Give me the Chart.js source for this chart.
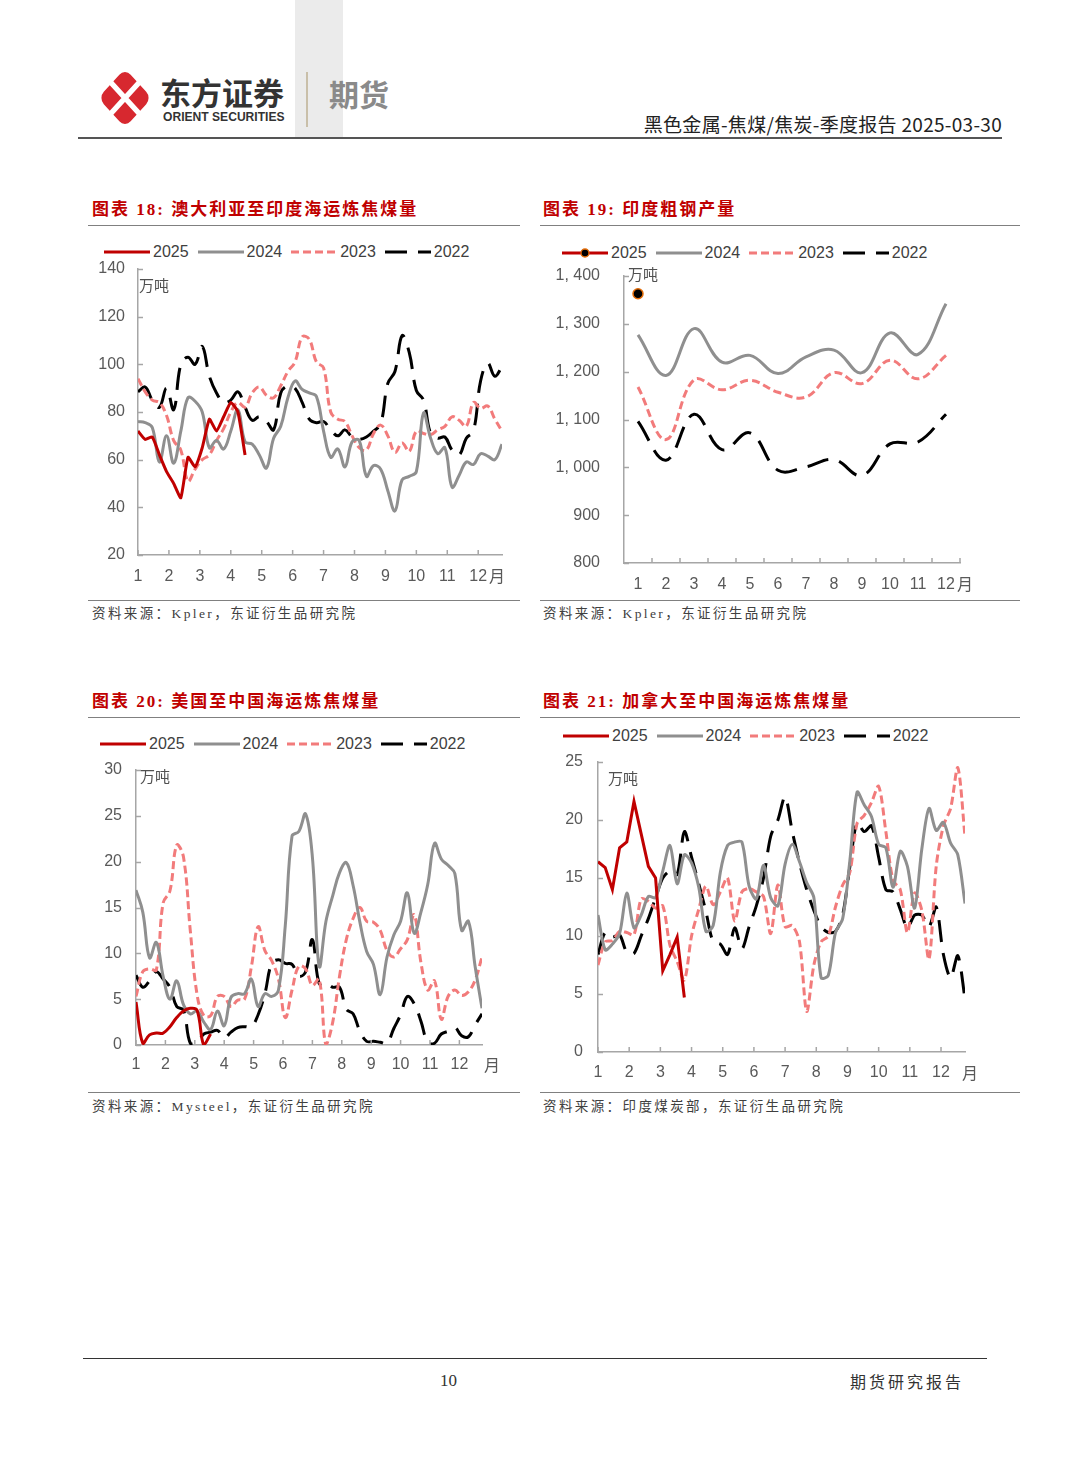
<!DOCTYPE html>
<html>
<head>
<meta charset="utf-8">
<script src="https://cdn.jsdelivr.net/npm/chart.js@4.4.1/dist/chart.umd.min.js"></script>
<style>
body { margin: 0; background: #fff; }
#page { position: relative; width: 1080px; height: 1465px; overflow: hidden; font-family: "Liberation Sans", "Noto Sans CJK SC", sans-serif; }
.abs { position: absolute; white-space: nowrap; }
.title { font-family: "Liberation Serif", "Noto Sans CJK SC", serif; font-weight: bold; color: #C00000; font-size: 17px; line-height: 20px; letter-spacing: 2px; }
.src { font-family: "Liberation Serif", "Noto Sans CJK SC", serif; font-size: 13.5px; line-height: 18px; color: #404040; letter-spacing: 2.4px; }
.rule { position: absolute; height: 0; border-top: 1.5px solid #808080; }
.legend { position: absolute; display: flex; align-items: center; height: 18px; font-size: 16px; line-height: 18px; color: #404040; }
.legend svg { display: block; }
.legend span { margin: 0 9px 0 3px; }
.unit { position: absolute; font-family: "Noto Sans CJK SC"; font-size: 15px; line-height: 15px; color: #505050; }
.yue { position: absolute; font-family: "Noto Sans CJK SC"; font-size: 16px; line-height: 16px; color: #595959; }
.box { position: absolute; }
</style>
</head>
<body>
<div id="page">

  <!-- 页眉 -->
  <div class="abs" style="left:295px;top:0;width:48px;height:138px;background:#EBEBEB;"></div>
  <svg class="abs" style="left:98px;top:68px" width="54" height="60">
    <g transform="translate(27,30) scale(1,1.1) rotate(45)">
      <rect x="-19" y="-19" width="38" height="38" rx="8" fill="#D7282F"/>
      <path d="M-20 0 H20 M0 -20 V20" stroke="#fff" stroke-width="5"/>
    </g>
  </svg>
  <div class="abs" style="left:160px;top:74px;font-family:'Noto Sans CJK SC';font-weight:bold;font-size:31px;line-height:36px;color:#333;">东方证券</div>
  <div class="abs" style="left:163px;top:110px;font-weight:bold;font-size:13px;line-height:14px;color:#333;transform:scaleX(0.93);transform-origin:left;">ORIENT SECURITIES</div>
  <div class="abs" style="left:306px;top:72px;width:1.5px;height:55px;background:#C9BFA9;"></div>
  <div class="abs" style="left:329px;top:75px;font-family:'Noto Sans CJK SC';font-weight:bold;font-size:30px;line-height:36px;color:#8A8A8A;">期货</div>
  <div class="abs" style="right:78px;top:112px;font-family:'Noto Sans CJK SC';font-size:19px;line-height:24px;letter-spacing:0.3px;color:#222;">黑色金属-焦煤/焦炭-季度报告 2025-03-30</div>
  <div class="rule" style="left:78px;top:137px;width:924px;border-top:2px solid #555;"></div>

  <!-- 图表 18 -->
  <div class="abs title" style="left:92px;top:200px;">图表 18: 澳大利亚至印度海运炼焦煤量</div>
  <div class="rule" style="left:88px;top:225px;width:432px;"></div>
  <div class="legend" id="lg1" style="left:104px;top:243px;"></div>
  <div class="box" style="left:88px;top:258px;width:430px;height:339px;"><canvas id="c1" width="430" height="339"></canvas></div>
  <div class="unit" style="left:139px;top:277px;">万吨</div>
  <div class="yue" style="left:489px;top:567px;">月</div>
  <div class="rule" style="left:88px;top:600px;width:432px;"></div>
  <div class="abs src" style="left:92px;top:605px;">资料来源：Kpler，东证衍生品研究院</div>

  <!-- 图表 19 -->
  <div class="abs title" style="left:543px;top:200px;">图表 19: 印度粗钢产量</div>
  <div class="rule" style="left:540px;top:225px;width:480px;"></div>
  <div class="legend" id="lg2" style="left:562px;top:244px;"></div>
  <div class="box" style="left:540px;top:262px;width:440px;height:335px;"><canvas id="c2" width="440" height="335"></canvas></div>
  <div class="unit" style="left:628px;top:266px;">万吨</div>
  <div class="yue" style="left:957px;top:575px;">月</div>
  <div class="rule" style="left:540px;top:600px;width:480px;"></div>
  <div class="abs src" style="left:543px;top:605px;">资料来源：Kpler，东证衍生品研究院</div>

  <!-- 图表 20 -->
  <div class="abs title" style="left:92px;top:692px;">图表 20: 美国至中国海运炼焦煤量</div>
  <div class="rule" style="left:88px;top:717px;width:432px;"></div>
  <div class="legend" id="lg3" style="left:100px;top:735px;"></div>
  <div class="box" style="left:88px;top:758px;width:430px;height:327px;"><canvas id="c3" width="430" height="327"></canvas></div>
  <div class="unit" style="left:140px;top:768px;">万吨</div>
  <div class="yue" style="left:484px;top:1056px;">月</div>
  <div class="rule" style="left:88px;top:1092px;width:432px;"></div>
  <div class="abs src" style="left:92px;top:1098px;">资料来源：Mysteel，东证衍生品研究院</div>

  <!-- 图表 21 -->
  <div class="abs title" style="left:543px;top:692px;">图表 21: 加拿大至中国海运炼焦煤量</div>
  <div class="rule" style="left:540px;top:717px;width:480px;"></div>
  <div class="legend" id="lg4" style="left:563px;top:727px;"></div>
  <div class="box" style="left:540px;top:750px;width:440px;height:342px;"><canvas id="c4" width="440" height="342"></canvas></div>
  <div class="unit" style="left:608px;top:770px;">万吨</div>
  <div class="yue" style="left:962px;top:1064px;">月</div>
  <div class="rule" style="left:540px;top:1092px;width:480px;"></div>
  <div class="abs src" style="left:543px;top:1098px;">资料来源：印度煤炭部，东证衍生品研究院</div>

  <!-- 页脚 -->
  <div class="rule" style="left:83px;top:1358px;width:904px;border-top:1.5px solid #333;"></div>
  <div class="abs" style="left:440px;top:1371px;font-family:'Liberation Serif';font-size:17px;line-height:20px;color:#333;">10</div>
  <div class="abs" style="left:850px;top:1371px;font-family:'Noto Sans CJK SC';font-size:16px;line-height:20px;letter-spacing:3px;color:#333;">期货研究报告</div>
</div>

<script>
// 系列名
var seriesNames = ['2025', '2024', '2023', '2022'];

// 周度横轴：第几周 -> 月份坐标
var weeks = Array.from({length: 52}, function (_, i) { return i + 1; });
var weekX = weeks.map(function (w) { return 1 + (w - 1) * 12 / 52; });
var months = ['1', '2', '3', '4', '5', '6', '7', '8', '9', '10', '11', '12'];

// 图表18 澳大利亚至印度海运炼焦煤量（万吨）
var au2025 = [72, 68.5, 69.5, 62, 55, 50, 44, 61, 57, 65, 77, 72, 78, 84, 80, 62];
var au2024 = [76, 75.5, 73.5, 59, 70, 58.5, 72, 86, 84.5, 80, 65, 68, 64.5, 72, 81, 67.5, 66.5, 62, 56.5, 69,
  74, 86, 93, 89.5, 88, 86.5, 72, 61, 64.5, 57, 67.5, 68, 53, 57.5, 56, 47, 38.5, 51.5, 53, 55,
  79.5, 69, 62.5, 65, 48.5, 53.5, 59, 58, 62.5, 61.5, 60, 66.5];
var au2023 = [94, 88.5, 85, 84, 78.5, 68, 64, 51, 56, 60, 62, 68, 73, 80, 84, 82, 88, 90.5, 87, 86,
  91, 97, 101, 111.5, 110.5, 101, 98.5, 80, 77, 76, 70, 65, 64, 71, 74.5, 70, 63, 67, 63.5, 72,
  71, 70.5, 72.5, 74, 78, 76.5, 74, 84, 81.5, 82.5, 77, 72];
var au2022 = [88.5, 90.5, 85, 82, 90, 81, 100, 103, 100, 107.5, 95, 88, 84, 85, 88.5, 82, 76.5, 78, 76, 72.5,
  88, 91, 90, 84, 77, 75.5, 76, 72.5, 70, 72.5, 69.5, 68.5, 69.5, 72, 75, 92, 97, 112, 105, 89,
  85, 71, 69, 69.5, 64, 62, 69, 72, 93, 100.5, 95, 99];
var auTicks = [20, 140, 20];

// 图表19 印度粗钢产量（万吨，月度）
var steel2025 = [1363];
var steel2024 = [1277, 1192, 1290, 1220, 1234, 1196, 1231, 1245, 1198, 1281, 1236, 1342];
var steel2023 = [1168, 1058, 1183, 1162, 1182, 1157, 1147, 1198, 1175, 1224, 1185, 1234];
var steel2022 = [1096, 1015, 1111, 1037, 1072, 994, 1001, 1016, 983, 1049, 1053, 1111];
var steelTicks = [800, 1400, 100];

// 图表20 美国至中国海运炼焦煤量（万吨）
var us2025 = [4.7, 0.2, 1.1, 1.3, 1.3, 2.0, 3.0, 3.7, 4.0, 3.8, 0, 1.2];
var us2024 = [16.9, 14.5, 9.5, 11.2, 7.5, 5.0, 7.0, 4.4, 3.4, 3.7, 2.5, 1.7, 3.7, 2.1, 5.2, 5.6, 5.6, 7.2, 4.2, 5.6,
  5.3, 6.0, 13, 22.8, 23.3, 25.2, 20.5, 8.6, 13.5, 16.3, 18.8, 19.9, 17.4, 13.4, 10.2, 8.8, 5.5, 9.6, 12, 13.5,
  16.6, 12.2, 14.5, 17.5, 22, 20.3, 19.6, 18.7, 12.5, 13.5, 8.5, 4.0];
var us2023 = [5.3, 8.0, 8.3, 8.2, 15.5, 16.8, 21.8, 20.5, 12.5, 5.5, 3.2, 3.2, 5.3, 5.3, 4.2, 4.9, 5.0, 8.5, 12.9, 10.3,
  9.2, 7.2, 3.0, 6.0, 8.6, 8.3, 6.5, 7.2, 0, 2.5, 7.5, 11.5, 13.8, 15.0, 13.5, 13.4, 12.5, 10.3, 9.6, 10.5,
  11.5, 14.2, 9.0, 6.0, 7.0, 2.8, 5.3, 6.0, 5.4, 5.8, 7.1, 9.6];
var us2022 = [7.6, 6.3, 7.0, 8.0, 7.2, 6.3, 4.2, 3.8, 0.2, 0.3, 1.2, 1.4, 1.6, 0.8, 1.4, 1.9, 2.0, 2.0, 3.3, 5.6,
  8.9, 9.3, 8.9, 8.8, 7.5, 8.0, 11.5, 6.7, 6.8, 6.3, 6.3, 3.9, 3.4, 1.5, 0.4, 0.4, 0.3, 0.2, 1.8, 3.3,
  5.3, 4.5, 2.6, 0.3, 0.2, 1.2, 1.5, 1.9, 1.0, 0.9, 2.2, 3.4];
var usTicks = [0, 30, 5];

// 图表21 加拿大至中国海运炼焦煤量（万吨）
var ca2025 = [16.4, 15.9, 14.0, 17.6, 18.1, 21.6, 18.8, 16.0, 15.0, 7.0, 8.4, 9.9, 4.7];
var ca2024 = [11.8, 8.8, 9.3, 10.2, 13.7, 10.7, 11.8, 13.4, 13.3, 15.6, 17.8, 14.5, 17.0, 16.3, 14.2, 10.4, 10.9, 15.5, 17.8, 18.1,
  18.1, 14.3, 13.2, 16.1, 13.3, 12.6, 16.2, 17.9, 16.4, 14.6, 13.3, 6.4, 6.6, 10.3, 11.5, 16.5, 22.4, 21.3, 20.3, 17.9,
  17.6, 14.2, 17.3, 16.0, 12.4, 17.5, 21.0, 19.1, 19.8, 18.0, 17.0, 12.8];
var ca2023 = [7.5, 9.5, 9.6, 10.4, 10.3, 10.1, 13.2, 13.0, 12.4, 12.6, 9.2, 7.8, 6.2, 10.0, 12.3, 14.3, 12.7, 13.8, 15.0, 11.3,
  13.8, 14.1, 13.8, 13.4, 10.2, 14.4, 10.8, 10.9, 9.5, 3.5, 7.5, 9.5, 10.0, 12.5, 14.4, 15.5, 19.7, 20.4, 21.5, 22.9,
  19.0, 14.8, 14.0, 10.3, 13.7, 12.2, 8.0, 16.0, 19.5, 21.0, 24.5, 18.6];
var ca2022 = [8.4, 10.3, 9.9, 10.1, 8.6, 8.5, 10.0, 11.5, 13.3, 15.0, 15.6, 15.3, 19.0, 16.8, 14.5, 12.1, 9.5, 9.3, 8.4, 10.7,
  8.9, 10.8, 12.6, 15.0, 18.6, 20.0, 22.0, 19.0, 16.3, 14.0, 12.2, 10.8, 10.3, 10.4, 11.8, 16.0, 19.8, 19.0, 19.5, 16.8,
  14.0, 13.8, 12.3, 10.7, 11.8, 11.8, 10.8, 12.5, 8.4, 6.4, 8.3, 4.6];
var caTicks = [0, 25, 5];

var lineStyles = [
  {color: '#C00000', dash: []},
  {color: '#8F8F8F', dash: []},
  {color: '#F27B7B', dash: [8, 4]},
  {color: '#000000', dash: [22, 11]}
];
var AXIS = '#A6A6A6';
var TICK = '#595959';
var tickFont = {family: 'Liberation Sans', size: 16};

// 图例（HTML）
function drawLegend(id, withDot) {
  var el = document.getElementById(id);
  var html = '';
  seriesNames.forEach(function (name, i) {
    var st = lineStyles[i];
    var dash = st.dash.length ? st.dash.join(' ') : 'none';
    html += '<svg width="46" height="12"><line x1="0" y1="6" x2="46" y2="6" stroke="' + st.color +
      '" stroke-width="3" stroke-dasharray="' + dash + '"/>';
    if (withDot && i === 0) html += '<circle cx="23" cy="6" r="4" fill="#000" stroke="#E36C09" stroke-width="1.3"/>';
    html += '</svg><span>' + name + '</span>';
  });
  el.innerHTML = html;
}

// 坐标轴向内的小刻度
var innerTicks = {
  id: 'innerTicks',
  afterDatasetsDraw: function (chart, args, opts) {
    var ctx = chart.ctx, a = chart.chartArea, xs = chart.scales.x, ys = chart.scales.y;
    ctx.save();
    ctx.strokeStyle = AXIS;
    ctx.lineWidth = 1.5;
    ctx.beginPath();
    ys.ticks.forEach(function (t) {
      var py = Math.round(ys.getPixelForValue(t.value)) + 0.5;
      ctx.moveTo(a.left, py); ctx.lineTo(a.left + 5, py);
    });
    if (opts.between) {
      var n = xs.ticks.length;
      for (var k = 1; k <= n; k++) {
        var px = a.left + k * (a.right - a.left) / n;
        ctx.moveTo(px, a.bottom); ctx.lineTo(px, a.bottom - 5);
      }
    } else {
      xs.ticks.forEach(function (t) {
        var px = xs.getPixelForValue(t.value);
        ctx.moveTo(px, a.bottom); ctx.lineTo(px, a.bottom - 5);
      });
    }
    ctx.stroke();
    ctx.restore();
  }
};

function lineSet(label, data, idx, tension) {
  var st = lineStyles[idx];
  return {
    label: label, data: data, borderColor: st.color, borderDash: st.dash,
    borderWidth: 3, pointRadius: 0, tension: tension, fill: false
  };
}

function yScale(t, w, pad, fmt) {
  return {
    type: 'linear', min: t[0], max: t[1],
    grid: {display: false, drawTicks: false},
    border: {display: true, color: AXIS, width: 1.5},
    ticks: {stepSize: t[2], padding: pad, color: TICK, font: tickFont, callback: fmt || function (v) { return v; }},
    afterFit: function (s) { s.width = w; s.paddingTop = 0; s.paddingBottom = 0; }
  };
}

function xFit(h) {
  return function (s) { s.height = h; s.paddingLeft = 0; s.paddingRight = 0; };
}

function weekChart(id, sets, t, geo) {
  new Chart(document.getElementById(id), {
    type: 'line',
    data: {labels: weekX, datasets: sets},
    options: {
      responsive: false, animation: false, devicePixelRatio: 1,
      layout: {padding: {top: geo.top, right: geo.right, left: 0, bottom: 0}},
      plugins: {legend: {display: false}, tooltip: {enabled: false}, innerTicks: {between: false}},
      scales: {
        x: {
          type: 'linear', min: 1, max: weekX[weekX.length - 1],
          grid: {display: false, drawTicks: false},
          border: {display: true, color: AXIS, width: 1.5},
          ticks: {stepSize: 1, includeBounds: false, autoSkip: false, maxRotation: 0, padding: geo.xpad,
            color: TICK, font: tickFont,
            callback: function (v) { return Number.isInteger(v) ? String(v) : ''; }},
          afterFit: xFit(geo.xh)
        },
        y: yScale(t, geo.yw, geo.ypad)
      }
    },
    plugins: [innerTicks]
  });
}

drawLegend('lg1', false);
drawLegend('lg2', true);
drawLegend('lg3', false);
drawLegend('lg4', false);

// 图表18
weekChart('c1', [
  lineSet('2025', au2025, 0, 0.15),
  lineSet('2024', au2024, 1, 0.4),
  lineSet('2023', au2023, 2, 0.4),
  lineSet('2022', au2022, 3, 0.4)
], auTicks, {top: 11, right: 16, xh: 42, yw: 50, xpad: 12, ypad: 13});

// 图表19
var s25 = lineSet('2025', steel2025, 0, 0.4);
s25.pointRadius = 5;
s25.pointBackgroundColor = '#000';
s25.pointBorderColor = '#E36C09';
s25.pointBorderWidth = 1.5;
new Chart(document.getElementById('c2'), {
  type: 'line',
  data: {
    labels: months,
    datasets: [s25, lineSet('2024', steel2024, 1, 0.4), lineSet('2023', steel2023, 2, 0.4), lineSet('2022', steel2022, 3, 0.4)]
  },
  options: {
    responsive: false, animation: false, devicePixelRatio: 1,
    layout: {padding: {top: 14, right: 20, left: 0, bottom: 0}},
    plugins: {legend: {display: false}, tooltip: {enabled: false}, innerTicks: {between: true}},
    scales: {
      x: {
        type: 'category', offset: true,
        grid: {display: false, drawTicks: false},
        border: {display: true, color: AXIS, width: 1.5},
        ticks: {autoSkip: false, maxRotation: 0, padding: 12, color: TICK, font: tickFont},
        afterFit: xFit(34)
      },
      y: yScale(steelTicks, 84, 24, function (v) {
        return v >= 1000 ? Math.floor(v / 1000) + ', ' + String(v % 1000).padStart(3, '0') : String(v);
      })
    }
  },
  plugins: [innerTicks]
});

// 图表20
weekChart('c3', [
  lineSet('2025', us2025, 0, 0.4),
  lineSet('2024', us2024, 1, 0.4),
  lineSet('2023', us2023, 2, 0.4),
  lineSet('2022', us2022, 3, 0.4)
], usTicks, {top: 12, right: 36, xh: 40, yw: 48, xpad: 10, ypad: 14});

// 图表21
weekChart('c4', [
  lineSet('2025', ca2025, 0, 0),
  lineSet('2024', ca2024, 1, 0.3),
  lineSet('2023', ca2023, 2, 0.3),
  lineSet('2022', ca2022, 3, 0.3)
], caTicks, {top: 12, right: 15, xh: 40, yw: 58, xpad: 11, ypad: 15});
</script>
</body>
</html>
